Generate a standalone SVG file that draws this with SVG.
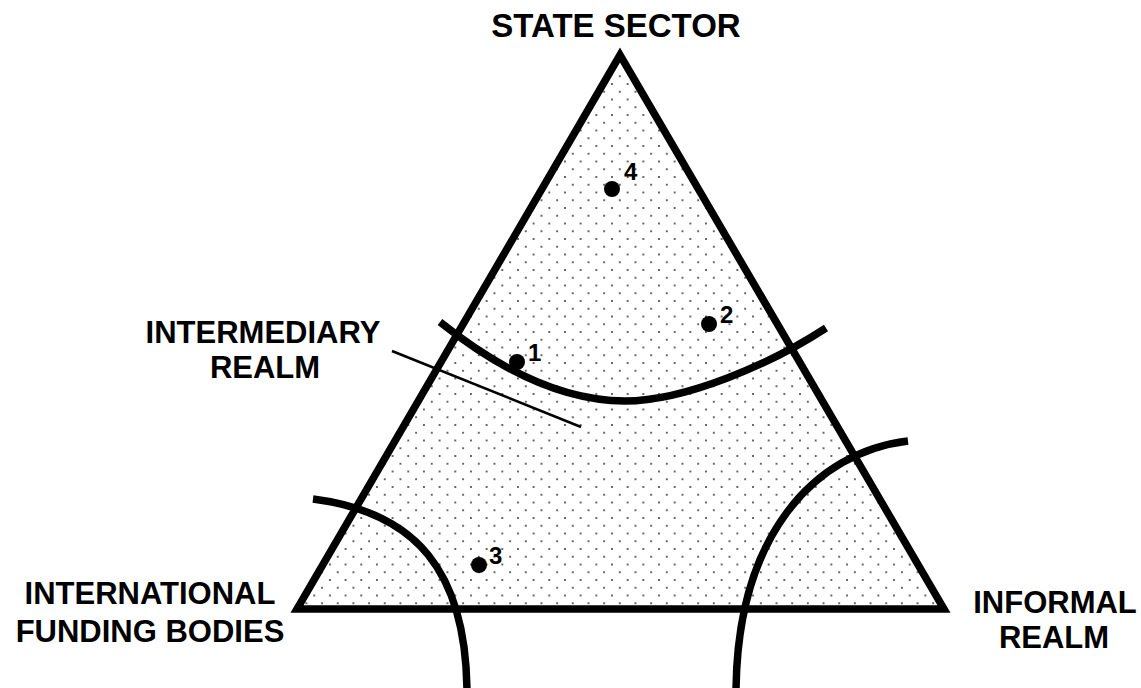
<svg xmlns="http://www.w3.org/2000/svg" width="1141" height="688" viewBox="0 0 1141 688">
  <style>
    .lbl { font-family: "Liberation Sans", Arial, sans-serif; font-weight: bold; font-size: 31px; fill: #000; text-anchor: middle; }
    .num { font-family: "Liberation Sans", Arial, sans-serif; font-weight: bold; font-size: 24px; fill: #000; }
    .thick { fill: none; stroke: #000; stroke-width: 7.5; }
    .pt { fill: #000; }
  </style>
  <defs>
    <pattern id="dots" patternUnits="userSpaceOnUse" x="706" y="425" width="15.67" height="15.5">
      <circle cx="0" cy="0" r="1" fill="#333"/>
      <circle cx="15.67" cy="0" r="1" fill="#333"/>
      <circle cx="0" cy="15.5" r="1" fill="#333"/>
      <circle cx="15.67" cy="15.5" r="1" fill="#333"/>
      <circle cx="7.83" cy="7.75" r="1" fill="#333"/>
    </pattern>
  </defs>

  <g id="triangle">
    <polygon points="620,55 297,609 944,609" fill="#fff"/>
    <polygon points="620,55 297,609 944,609" fill="url(#dots)"/>
    <polygon points="620,55 297,609 944,609" class="thick" stroke-linejoin="miter" stroke-miterlimit="10"/>
  </g>

  <g id="connectors">
    <path id="intermediary-arc" class="thick" d="M440,322 C495,366 560,401 625,401 C685,401 771,364 826,328"/>
    <path id="international-arc" class="thick" d="M313,499 C415,512 467,570 467,695"/>
    <path id="informal-arc" class="thick" d="M908,441 C815,452 736,535 736,695"/>
    <line id="intermediary-pointer" x1="392" y1="351" x2="581" y2="427" stroke="#000" stroke-width="2.5"/>
  </g>

  <g id="point-1">
    <circle class="pt" cx="517" cy="362" r="8"/>
    <text class="num" x="528" y="361">1</text>
  </g>
  <g id="point-2">
    <circle class="pt" cx="709" cy="324" r="8"/>
    <text class="num" x="720" y="323">2</text>
  </g>
  <g id="point-3">
    <circle class="pt" cx="479" cy="565" r="8"/>
    <text class="num" x="489" y="564">3</text>
  </g>
  <g id="point-4">
    <circle class="pt" cx="612" cy="189" r="8"/>
    <text class="num" x="624" y="180">4</text>
  </g>

  <g id="label-state">
    <text class="lbl" x="616" y="37" style="font-size:33px">STATE SECTOR</text>
  </g>
  <g id="label-intermediary">
    <text class="lbl" x="263" y="343">INTERMEDIARY</text>
    <text class="lbl" x="265" y="378">REALM</text>
  </g>
  <g id="label-international">
    <text class="lbl" x="150" y="604">INTERNATIONAL</text>
    <text class="lbl" x="150" y="642">FUNDING BODIES</text>
  </g>
  <g id="label-informal">
    <text class="lbl" x="1055" y="613">INFORMAL</text>
    <text class="lbl" x="1054" y="648">REALM</text>
  </g>
</svg>
